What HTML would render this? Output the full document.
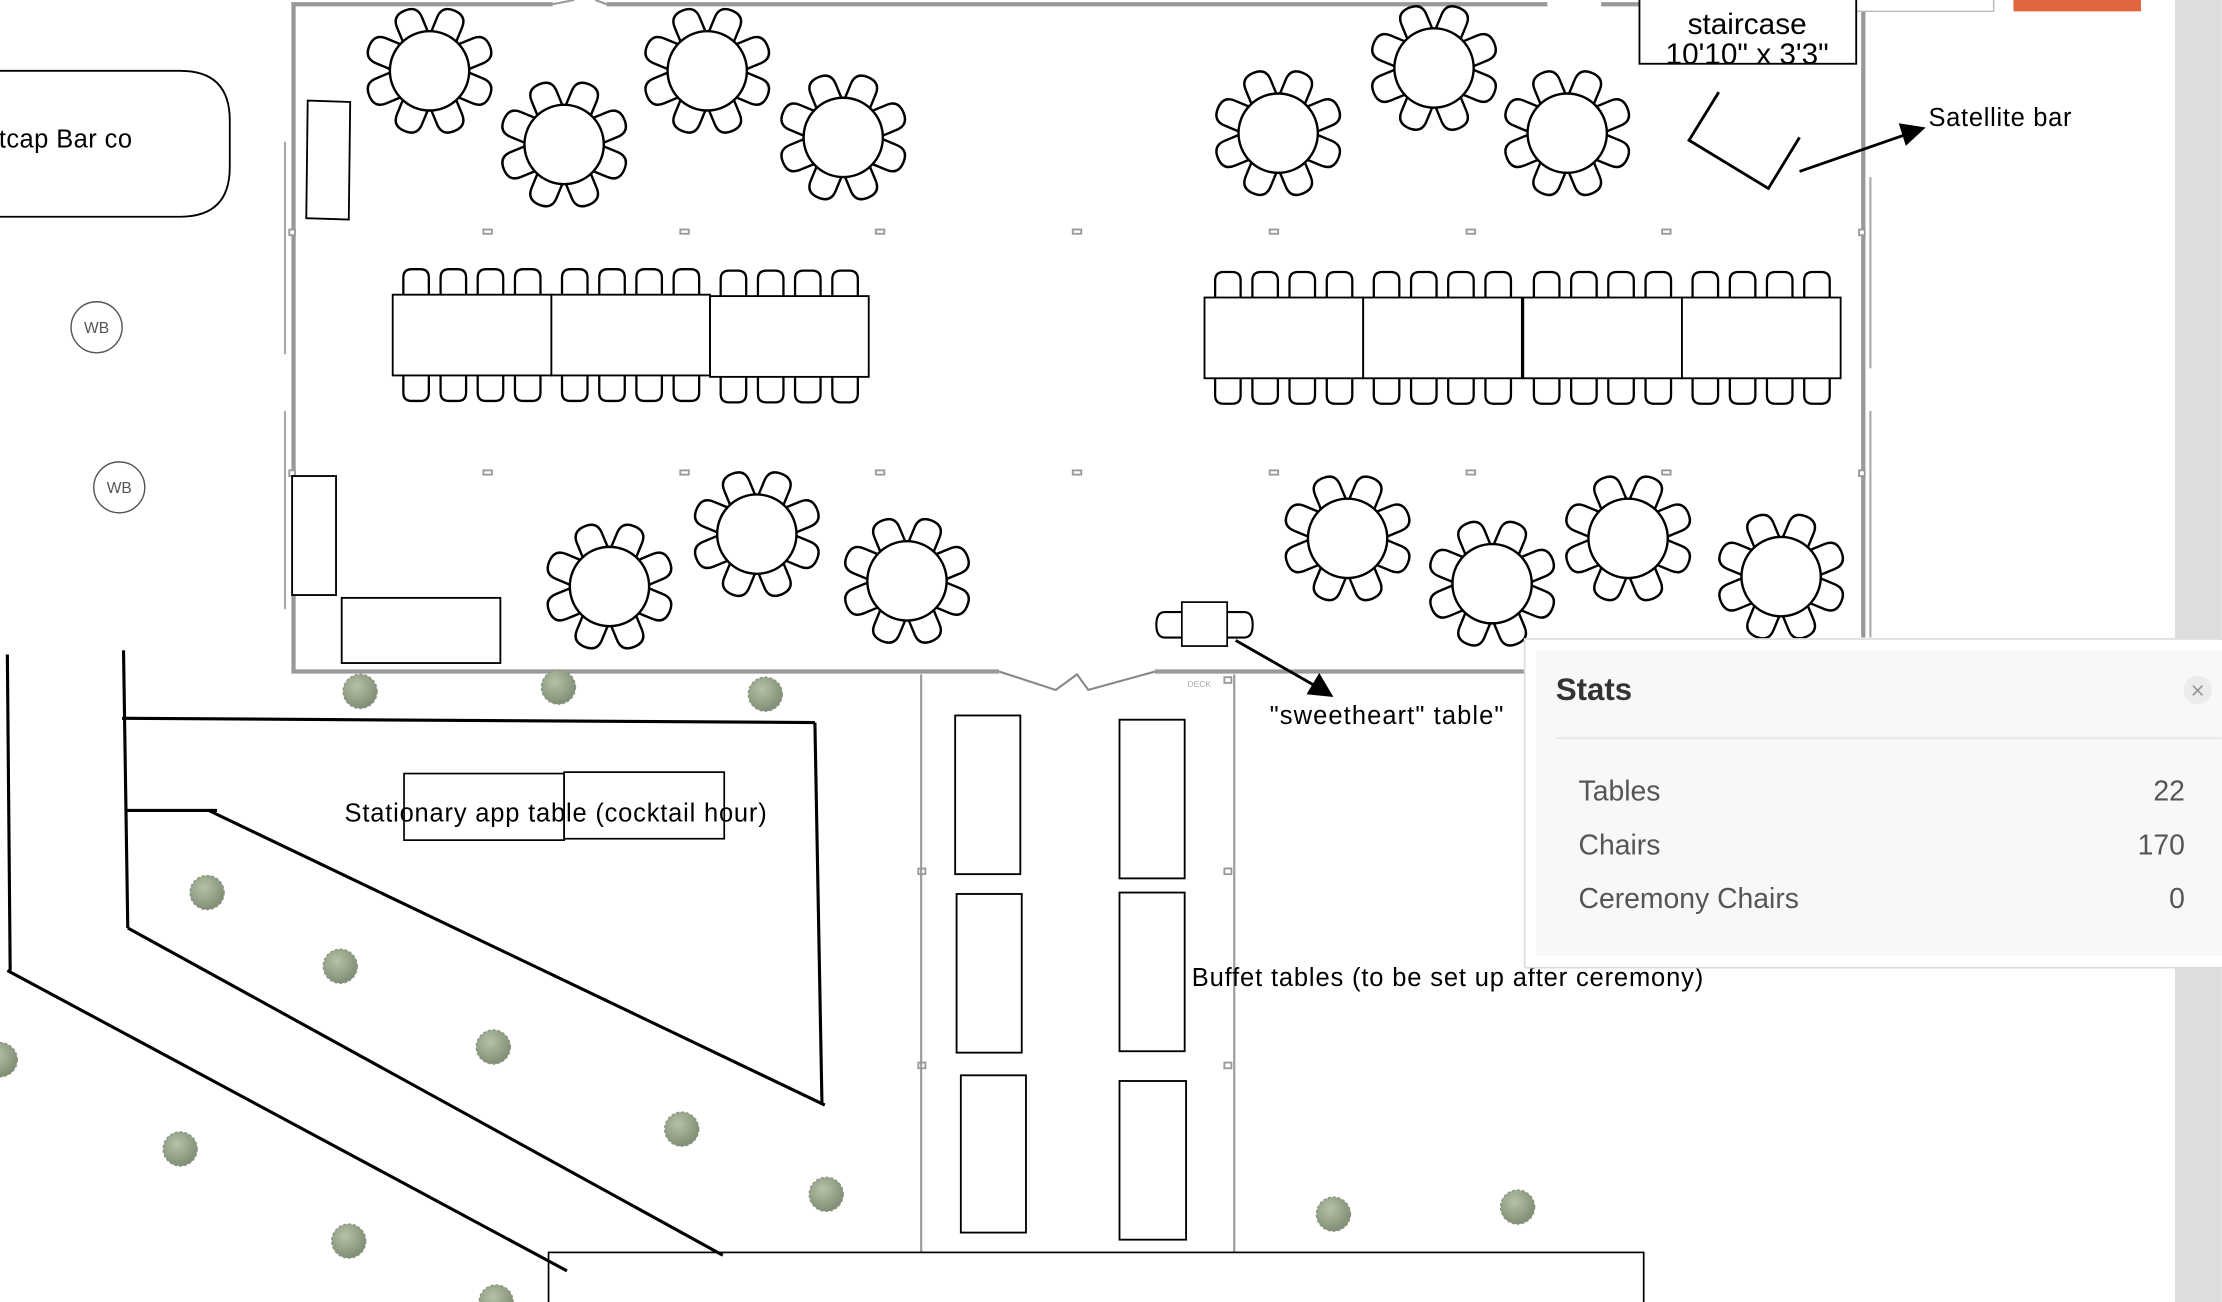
<!DOCTYPE html>
<html><head><meta charset="utf-8"><style>
html,body{margin:0;padding:0;background:#fff;overflow:hidden}
svg{display:block}
text{font-family:"Liberation Sans",sans-serif}
</style></head><body>
<svg width="2222" height="1302" viewBox="0 0 1568 919" xmlns="http://www.w3.org/2000/svg">
<defs>
<path id="ch" d="M-9.5,-24 L-9.5,-37 Q-9.5,-46 0,-46 Q9.5,-46 9.5,-37 L9.5,-24" fill="#fff" stroke="#000" stroke-width="1.7"/>
<g id="rt">
<use href="#ch" transform="rotate(22.5)"/><use href="#ch" transform="rotate(67.5)"/>
<use href="#ch" transform="rotate(112.5)"/><use href="#ch" transform="rotate(157.5)"/>
<use href="#ch" transform="rotate(202.5)"/><use href="#ch" transform="rotate(247.5)"/>
<use href="#ch" transform="rotate(292.5)"/><use href="#ch" transform="rotate(337.5)"/>
<circle r="28" fill="#fff" stroke="#000" stroke-width="1.7"/>
</g>
<path id="cu" d="M-9,0 L-9,-12 Q-9,-18 -3,-18 L3,-18 Q9,-18 9,-12 L9,0" fill="#fff" stroke="#000" stroke-width="1.6"/>
<g id="lt">
<use href="#cu" x="16.5" y="0"/><use href="#cu" x="42.8" y="0"/><use href="#cu" x="69" y="0"/><use href="#cu" x="95.3" y="0"/>
<use href="#cu" transform="translate(16.5,57) scale(1,-1)"/><use href="#cu" transform="translate(42.8,57) scale(1,-1)"/>
<use href="#cu" transform="translate(69,57) scale(1,-1)"/><use href="#cu" transform="translate(95.3,57) scale(1,-1)"/>
<rect x="0" y="0" width="112" height="57" fill="#fff" stroke="#000" stroke-width="1.3"/>
</g>
<radialGradient id="tg" cx="40%" cy="35%" r="70%"><stop offset="0" stop-color="#b5c2a8"/><stop offset="1" stop-color="#7d8a72"/></radialGradient>
<circle id="tr" r="12" fill="url(#tg)" stroke="#8a9580" stroke-width="1" stroke-dasharray="2,1.5"/>
</defs>

<rect x="1535" y="0" width="33" height="919" fill="#dcdddd"/>

<g stroke="#999" stroke-width="3" fill="none">
<path d="M390,3 L207,3 L207,474 L705,474"/>
<path d="M428,3 L1092,3"/>
<path d="M1130,3 L1315,3 L1315,450"/>
<path d="M815,474 L1077,474"/>
</g>
<path d="M705,474 L745,487 L760,476 L768,487 L815,474" stroke="#888" stroke-width="1.5" fill="none"/>
<path d="M390,3 L405,0 M428,3 L420,0" stroke="#999" stroke-width="1.5"/>
<g stroke="#aaa" stroke-width="1.5">
<line x1="201" y1="100" x2="201" y2="250"/><line x1="201" y1="290" x2="201" y2="430"/>
<line x1="1320" y1="125" x2="1320" y2="260"/><line x1="1320" y1="290" x2="1320" y2="450"/>
</g>
<g fill="#fff" stroke="#999" stroke-width="1.3">
<rect x="341" y="162" width="6" height="3"/><rect x="480" y="162" width="6" height="3"/><rect x="618" y="162" width="6" height="3"/><rect x="757" y="162" width="6" height="3"/><rect x="896" y="162" width="6" height="3"/><rect x="1035" y="162" width="6" height="3"/><rect x="1173" y="162" width="6" height="3"/>
<rect x="341" y="332" width="6" height="3"/><rect x="480" y="332" width="6" height="3"/><rect x="618" y="332" width="6" height="3"/><rect x="757" y="332" width="6" height="3"/><rect x="896" y="332" width="6" height="3"/><rect x="1035" y="332" width="6" height="3"/><rect x="1173" y="332" width="6" height="3"/>
<rect x="204" y="162" width="4" height="4"/><rect x="204" y="332" width="4" height="4"/><rect x="1312" y="162" width="4" height="4"/><rect x="1312" y="332" width="4" height="4"/>
<rect x="648" y="613" width="5" height="4"/><rect x="648" y="750" width="5" height="4"/><rect x="864" y="613" width="5" height="4"/><rect x="864" y="750" width="5" height="4"/><rect x="864" y="478" width="5" height="4"/>
</g>

<use href="#rt" x="303" y="50"/><use href="#rt" x="398" y="102"/><use href="#rt" x="499" y="50"/><use href="#rt" x="595" y="97"/>
<use href="#rt" x="902" y="94"/><use href="#rt" x="1012" y="48"/><use href="#rt" x="1106" y="94"/>
<use href="#rt" x="430" y="414"/><use href="#rt" x="534" y="377"/><use href="#rt" x="640" y="410"/>
<use href="#rt" x="951" y="380"/><use href="#rt" x="1053" y="412"/><use href="#rt" x="1149" y="380"/><use href="#rt" x="1257" y="407"/>

<use href="#lt" x="277" y="208"/><use href="#lt" x="389" y="208"/><use href="#lt" x="501" y="209"/>
<use href="#lt" x="850" y="210"/><use href="#lt" x="962" y="210"/><use href="#lt" x="1075" y="210"/><use href="#lt" x="1187" y="210"/>

<g fill="#fff" stroke="#000" stroke-width="1.3">
<polygon points="217,71 247,72 246,155 216,154"/>
<rect x="206" y="336" width="31" height="84"/>
<rect x="241" y="422" width="112" height="46"/>
</g>

<path d="M-10,50 L127,50 Q162,50 162,85 L162,118 Q162,153 127,153 L-10,153" fill="#fff" stroke="#000" stroke-width="1.3"/>
<text x="-1" y="104" font-size="18" fill="#000" textLength="94">tcap Bar co</text>
<circle cx="68" cy="231" r="18" fill="#fff" stroke="#555" stroke-width="1"/>
<text x="68" y="235" font-size="11" fill="#555" text-anchor="middle">WB</text>
<circle cx="84" cy="344" r="18" fill="#fff" stroke="#555" stroke-width="1"/>
<text x="84" y="348" font-size="11" fill="#555" text-anchor="middle">WB</text>

<rect x="1270" y="-2" width="137" height="10" fill="#fff" stroke="#bbb" stroke-width="1"/>
<rect x="1421" y="0" width="90" height="8" fill="#e0663f"/>
<rect x="1157" y="-2" width="153" height="47" fill="#fff" stroke="#000" stroke-width="1.3"/>
<text x="1233" y="24" font-size="21" text-anchor="middle">staircase</text>
<text x="1233" y="45" font-size="21" text-anchor="middle">10'10" x 3'3"</text>

<path d="M1213,65 L1192,99 L1248,133 L1270,97" fill="none" stroke="#000" stroke-width="2"/>
<line x1="1270" y1="121" x2="1345" y2="95" stroke="#000" stroke-width="2"/>
<polygon points="1359,90 1340,87 1345,103" fill="#000"/>
<text x="1361" y="89" font-size="18" textLength="101">Satellite bar</text>

<g fill="#fff" stroke="#000" stroke-width="1.5">
<path d="M834,432 L822,432 Q816,432 816,441 Q816,450 822,450 L834,450"/>
<path d="M866,432 L878,432 Q884,432 884,441 Q884,450 878,450 L866,450"/>
<rect x="834" y="425" width="32" height="31" stroke-width="1.2"/>
</g>
<line x1="872" y1="452" x2="928" y2="484" stroke="#000" stroke-width="2"/>
<polygon points="941,492 922,490 931,475" fill="#000"/>
<text x="896" y="511" font-size="18" textLength="165">"sweetheart" table"</text>
<text x="838" y="485" font-size="6" fill="#aaa">DECK</text>

<g stroke="#999" stroke-width="1.5"><line x1="650" y1="476" x2="650" y2="884"/><line x1="871" y1="476" x2="871" y2="884"/></g>
<g fill="#fff" stroke="#000" stroke-width="1.3">
<rect x="674" y="505" width="46" height="112"/><rect x="790" y="508" width="46" height="112"/>
<rect x="675" y="631" width="46" height="112"/><rect x="790" y="630" width="46" height="112"/>
<rect x="678" y="759" width="46" height="111"/><rect x="790" y="763" width="47" height="112"/>
</g>
<text x="841" y="696" font-size="18" textLength="361">Buffet tables (to be set up after ceremony)</text>
<rect x="387" y="884" width="773" height="50" fill="#fff" stroke="#000" stroke-width="1.2"/>

<g stroke="#000" stroke-width="2.2" fill="none">
<line x1="5" y1="462" x2="7" y2="685"/>
<line x1="87" y1="459" x2="90" y2="655"/>
<line x1="86" y1="507" x2="575" y2="510"/>
<line x1="575" y1="510" x2="580" y2="780"/>
<line x1="88" y1="572" x2="153" y2="572"/>
<line x1="147" y1="572" x2="582" y2="780"/>
<line x1="90" y1="655" x2="510" y2="886"/>
<line x1="5" y1="685" x2="400" y2="897"/>
</g>
<g fill="#fff" stroke="#000" stroke-width="1.2">
<rect x="285" y="546" width="113" height="47"/><rect x="398" y="545" width="113" height="47"/>
</g>
<text x="243" y="580" font-size="18" textLength="298">Stationary app table (cocktail hour)</text>

<use href="#tr" x="254" y="488"/><use href="#tr" x="394" y="485"/><use href="#tr" x="540" y="490"/>
<use href="#tr" x="146" y="630"/><use href="#tr" x="240" y="682"/><use href="#tr" x="348" y="739"/>
<use href="#tr" x="481" y="797"/><use href="#tr" x="583" y="843"/><use href="#tr" x="127" y="811"/>
<use href="#tr" x="246" y="876"/><use href="#tr" x="941" y="857"/><use href="#tr" x="1071" y="852"/>
<use href="#tr" x="0" y="748"/><use href="#tr" x="350" y="919"/>

<rect x="1076" y="451" width="500" height="232" fill="#fff" stroke="#ddd" stroke-width="1.2"/>
<rect x="1084" y="459" width="490" height="216" fill="#f8f8f8"/>
<text x="1098" y="494" font-size="22" font-weight="bold" fill="#333">Stats</text>
<circle cx="1551" cy="487" r="10" fill="#ececec"/>
<text x="1551" y="493" font-size="17" fill="#999" text-anchor="middle">×</text>
<line x1="1098" y1="521" x2="1568" y2="521" stroke="#e8e8e8" stroke-width="1.5"/>
<g font-size="20" fill="#555">
<text x="1114" y="565">Tables</text><text x="1542" y="565" text-anchor="end">22</text>
<text x="1114" y="603">Chairs</text><text x="1542" y="603" text-anchor="end">170</text>
<text x="1114" y="641">Ceremony Chairs</text><text x="1542" y="641" text-anchor="end">0</text>
</g>
</svg>
</body></html>
